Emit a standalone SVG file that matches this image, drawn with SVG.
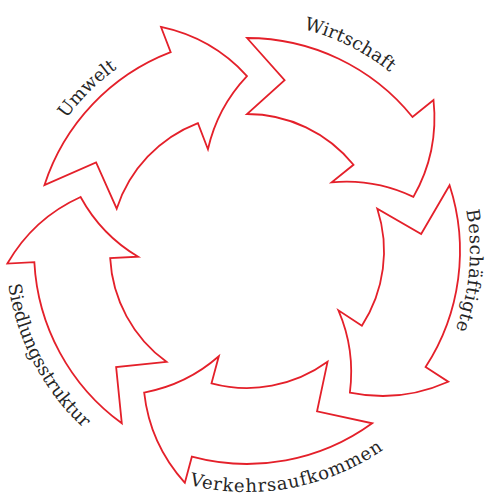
<svg xmlns="http://www.w3.org/2000/svg" width="488" height="496" viewBox="0 0 488 496">
  <style>
    .arrow { fill: #ffffff; stroke: #e4202a; stroke-width: 1.8; stroke-linejoin: miter; }
    .label { font-family: "DejaVu Serif", "Liberation Serif", serif; font-size: 18px; fill: #262626; }
  </style>
  <defs>
    <path id="arrow" d="M0,-213 A213,213 0 0 1 165.5,-134 L186.5,-151 Q192,-99 166.4,-54.1 Q127.3,-72.6 84.7,-68.6 L106.5,-86.2 A137,137 0 0 0 0,-137 L37.6,-170.9 Z"/>
    <path id="p-umwelt" d="M24,229.9 A224,224 0 0 1 229,27.7"/>
    <path id="p-wirtschaft" d="M193.5,28.3 A229,229 0 0 1 457,159.7"/>
    <path id="p-besch" d="M429.9,123.4 A223,223 0 0 1 404.4,409"/>
    <path id="p-verkehr" d="M128,460.6 A241,241 0 0 0 432.7,404.6"/>
    <path id="p-siedlung" d="M11.6,199.2 A241,241 0 0 0 155.2,473.8"/>
  </defs>
  <g id="wirtschaft">
    <use href="#arrow" class="arrow" transform="translate(247 251) rotate(0)"/>
    <text class="label" letter-spacing="0.2"><textPath href="#p-wirtschaft" startOffset="50%" text-anchor="middle">Wirtschaft</textPath></text>
  </g>
  <g id="beschaeftigte">
    <use href="#arrow" class="arrow" transform="translate(247 251) rotate(72)"/>
    <text class="label" letter-spacing="0.6"><textPath href="#p-besch" startOffset="50%" text-anchor="middle">Beschäftigte</textPath></text>
  </g>
  <g id="verkehrsaufkommen">
    <use href="#arrow" class="arrow" transform="translate(247 251) rotate(144)"/>
    <text class="label" letter-spacing="0.9"><textPath href="#p-verkehr" startOffset="50%" text-anchor="middle">Verkehrsaufkommen</textPath></text>
  </g>
  <g id="siedlungsstruktur">
    <use href="#arrow" class="arrow" transform="translate(247 251) rotate(216)"/>
    <text class="label" letter-spacing="0"><textPath href="#p-siedlung" startOffset="50%" text-anchor="middle">Siedlungsstruktur</textPath></text>
  </g>
  <g id="umwelt">
    <use href="#arrow" class="arrow" transform="translate(247 251) rotate(288)"/>
    <text class="label" letter-spacing="0"><textPath href="#p-umwelt" startOffset="50%" text-anchor="middle">Umwelt</textPath></text>
  </g>
  <g id="connectors"/>
</svg>
